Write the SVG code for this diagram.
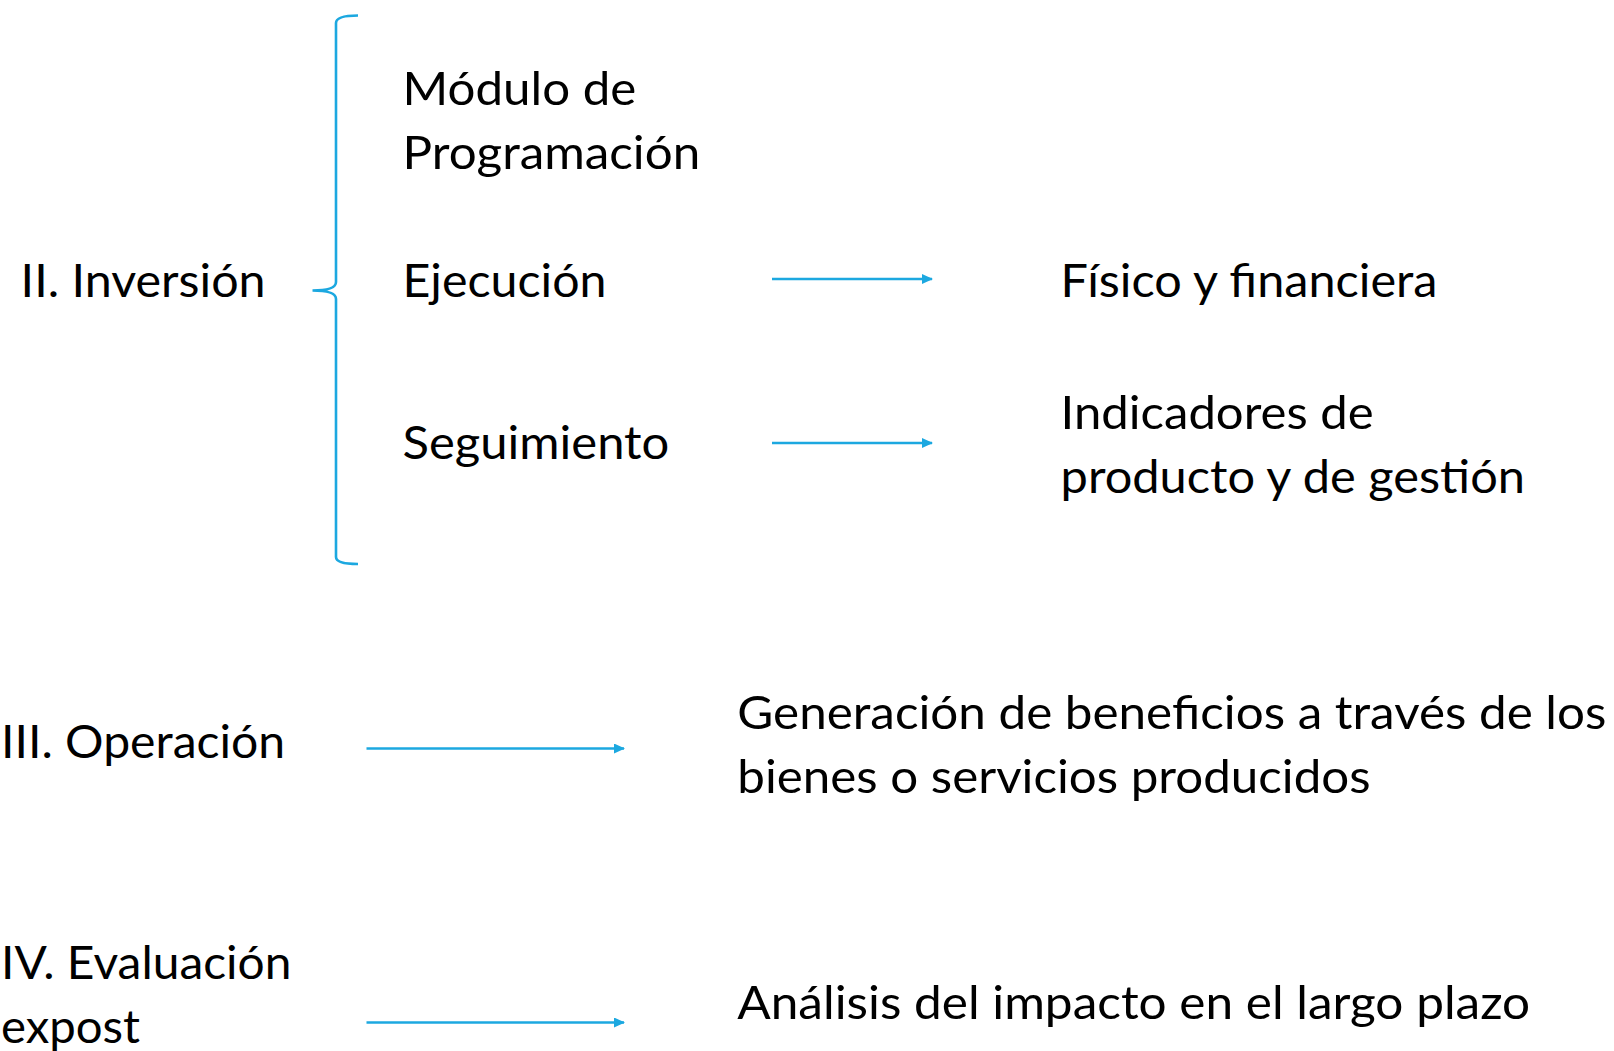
<svg xmlns="http://www.w3.org/2000/svg" width="1614" height="1051" viewBox="0 0 1614 1051">
<style>
  text { font-family: Lato, "Open Sans", "Liberation Sans", sans-serif; font-size: 47px; fill: #000; }
  .ln { stroke: #1CA8E0; stroke-width: 2.6; fill: none; }
</style>
<defs>
  <marker id="ah" markerWidth="11" markerHeight="10" refX="10" refY="5" orient="auto" markerUnits="userSpaceOnUse">
    <path d="M0,0 L11,5 L0,10 Z" fill="#1CA8E0"/>
  </marker>
</defs>
<rect width="1614" height="1051" fill="#fff"/>
<g id="brace">
  <path class="ln" d="M358,15.5 Q336,15.5 336,23 L336,282 Q336,290.5 312.5,290.5 Q336,290.5 336,299 L336,557 Q336,564 358,564"/>
</g>
<g id="connectors">
  <line class="ln" x1="772" y1="279" x2="932" y2="279" marker-end="url(#ah)"/>
  <line class="ln" x1="772" y1="443" x2="932" y2="443" marker-end="url(#ah)"/>
  <line class="ln" x1="366.5" y1="748.5" x2="624" y2="748.5" marker-end="url(#ah)"/>
  <line class="ln" x1="366.5" y1="1022.5" x2="624" y2="1022.5" marker-end="url(#ah)"/>
</g>
<g id="inversion"><text x="20.6" y="297" textLength="245" lengthAdjust="spacingAndGlyphs">II. Inversión</text></g>
<g id="modulo">
  <text x="402.6" y="105" textLength="233.7" lengthAdjust="spacingAndGlyphs">Módulo de</text>
  <text x="402.6" y="169" textLength="297.6" lengthAdjust="spacingAndGlyphs">Programación</text>
</g>
<g id="ejecucion"><text x="402.6" y="297" textLength="203.9" lengthAdjust="spacingAndGlyphs">Ejecución</text></g>
<g id="fisico"><text x="1060.6" y="297" textLength="376.9" lengthAdjust="spacingAndGlyphs">Físico y financiera</text></g>
<g id="seguimiento"><text x="402.6" y="459" textLength="266.7" lengthAdjust="spacingAndGlyphs">Seguimiento</text></g>
<g id="indicadores">
  <text x="1060.6" y="429.4" textLength="313" lengthAdjust="spacingAndGlyphs">Indicadores de</text>
  <text x="1060.6" y="493.2" textLength="464.4" lengthAdjust="spacingAndGlyphs">producto y de gestión</text>
</g>
<g id="operacion"><text x="1" y="757.9" textLength="284.2" lengthAdjust="spacingAndGlyphs">III. Operación</text></g>
<g id="generacion">
  <text x="737.3" y="729" textLength="869.1" lengthAdjust="spacingAndGlyphs">Generación de beneficios a través de los</text>
  <text x="737.3" y="792.9" textLength="633.3" lengthAdjust="spacingAndGlyphs">bienes o servicios producidos</text>
</g>
<g id="evaluacion">
  <text x="1" y="979.2" textLength="290.4" lengthAdjust="spacingAndGlyphs">IV. Evaluación</text>
  <text x="1" y="1043.1" textLength="139" lengthAdjust="spacingAndGlyphs">expost</text>
</g>
<g id="analisis"><text x="737.3" y="1019.4" textLength="792.9" lengthAdjust="spacingAndGlyphs">Análisis del impacto en el largo plazo</text></g>
</svg>
